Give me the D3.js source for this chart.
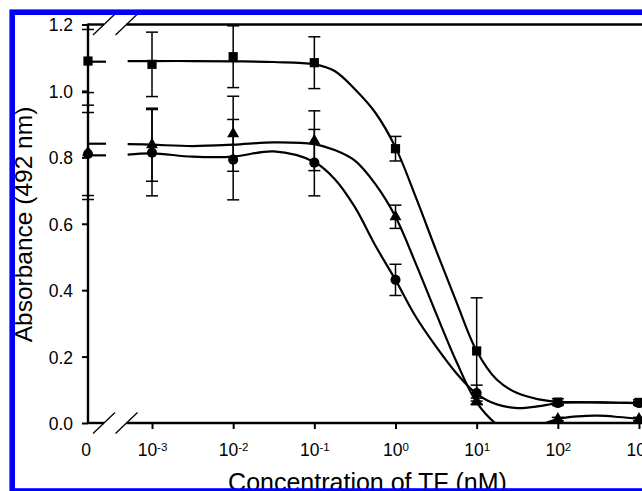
<!DOCTYPE html>
<html>
<head>
<meta charset="utf-8">
<script src="https://cdn.jsdelivr.net/npm/d3@7"></script>
<style>
body { margin: 0; background: #fff; }
svg { display: block; font-family: "Liberation Sans", Arial, sans-serif; }
</style>
</head>
<body>
<script>
// concentration of TF (nM); the 0 point sits on the broken left part of the axis
const conc = [0, 1e-3, 1e-2, 1e-1, 1, 10, 100, 1000];

// measured absorbance and error bars
const squareMean   = [1.090, 1.080, 1.103, 1.085, 0.826, 0.217, 0.063, 0.062];
const squareErr    = [0.095, 0.097, 0.093, 0.078, 0.037, 0.160, 0.010, 0.008];
const triangleMean = [0.815, 0.838, 0.871, 0.850, 0.621, 0.065, 0.012, 0.012];
const triangleErr  = [0.142, 0.110, 0.113, 0.090, 0.035, 0.010, 0.005, 0.005];
const circleMean   = [0.810, 0.814, 0.793, 0.784, 0.431, 0.090, 0.060, 0.060];
const circleErr    = [0.125, 0.130, 0.121, 0.100, 0.047, 0.024, 0.005, 0.005];

// fitted curves at log10(concentration)
const fitExp      = [-3.3, -3, -2.5, -2, -1.5, -1, -0.75, -0.5, -0.25, 0, 0.25, 0.5, 0.75, 1, 1.25, 1.5, 1.75, 2, 2.25, 2.5, 2.75, 3];
const squareFit   = [1.090, 1.090, 1.090, 1.089, 1.087, 1.080, 1.060, 1.005, 0.935, 0.830, 0.680, 0.520, 0.365, 0.217, 0.130, 0.090, 0.072, 0.064, 0.063, 0.062, 0.061, 0.060];
const triangleFit = [0.840, 0.838, 0.834, 0.838, 0.845, 0.840, 0.822, 0.790, 0.720, 0.621, 0.480, 0.330, 0.185, 0.062, -0.005, -0.040, -0.010, 0.012, 0.020, 0.022, 0.018, 0.012];
const circleFit   = [0.808, 0.812, 0.802, 0.802, 0.818, 0.786, 0.735, 0.650, 0.535, 0.431, 0.320, 0.230, 0.150, 0.088, 0.056, 0.045, 0.050, 0.060, 0.062, 0.062, 0.061, 0.060];
// fit value drawn on the broken part at concentration 0
const zeroFit = {square: 1.088, triangle: 0.841, circle: 0.806};

const yTicks = [0, 0.2, 0.4, 0.6, 0.8, 1.0, 1.2];
const xTickExp = [-3, -2, -1, 0, 1, 2, 3];

const width = 642, height = 491;
const svg = d3.select("body").append("svg").attr("width", width).attr("height", height);

const x0 = 88;            // position of concentration 0 (the y axis)
const x = d3.scaleLog().domain([1e-3, 1e3]).range([152, 639]);
const y = d3.scaleLinear().domain([0, 1.2]).range([423, 24.5]);
const px = c => c === 0 ? x0 : x(c);

const breakL = 104, breakR = 126.5;   // break slashes on the x axis

// clip everything to the plot area
svg.append("clipPath").attr("id", "plot")
    .append("rect").attr("x", 0).attr("y", 0).attr("width", 700).attr("height", y(0));

// axis lines, broken between 0 and 10^-3
const axisLines = svg.append("g").attr("stroke", "#000").attr("stroke-width", 2.4).attr("fill", "none");
axisLines.append("line").attr("x1", x0).attr("x2", x0).attr("y1", y(1.2) - 1).attr("y2", y(0) + 1);
[y(0), y(1.2)].forEach(function(yy){
    axisLines.append("line").attr("x1", x0).attr("x2", breakL).attr("y1", yy).attr("y2", yy);
    axisLines.append("line").attr("x1", breakR).attr("x2", 680).attr("y1", yy).attr("y2", yy);
    [breakL, breakR].forEach(function(bx){
        svg.append("line")
            .attr("x1", bx - 11).attr("y1", yy + 10.5)
            .attr("x2", bx + 11).attr("y2", yy - 10.5)
            .attr("stroke", "#000").attr("stroke-width", 1.3);
    });
});

// y axis ticks and labels
const yAxis = svg.append("g").attr("transform", "translate(" + x0 + ",0)")
    .call(d3.axisLeft(y).tickValues(yTicks).tickSize(6).tickPadding(9).tickFormat(d3.format(".1f")));
yAxis.select(".domain").remove();
yAxis.selectAll(".tick line").attr("stroke", "#000").attr("stroke-width", 2);
yAxis.selectAll(".tick text")
    .attr("font-size", "17.5px").attr("font-family", "Liberation Sans, Arial, sans-serif")
    .attr("fill", "#000").attr("dy", "0.37em");

// x axis ticks and labels (10 with superscript exponent)
const xAxis = svg.append("g").attr("transform", "translate(0," + y(0) + ")")
    .call(d3.axisBottom(x).tickValues(xTickExp.map(e => Math.pow(10, e))).tickSize(6));
xAxis.select(".domain").remove();
xAxis.selectAll(".tick line").attr("stroke", "#000").attr("stroke-width", 2);
xAxis.selectAll(".tick text")
    .attr("font-size", "17.5px").attr("font-family", "Liberation Sans, Arial, sans-serif")
    .attr("fill", "#000").attr("y", 32.7).attr("dy", null)
    .text(null)
    .each(function(d){
        let t = d3.select(this);
        t.append("tspan").text("10");
        t.append("tspan").attr("font-size", "11.5px").attr("dy", -4.3)
            .text(String(Math.round(Math.log10(d))));
    });
svg.append("text").attr("x", x0 - 2).attr("y", y(0) + 32.7)
    .attr("text-anchor", "middle").attr("font-size", "17.5px").text("0");

// axis titles
svg.append("text")
    .attr("transform", "translate(32,224.5) rotate(-90)")
    .attr("text-anchor", "middle").attr("font-size", "24.5px")
    .text("Absorbance (492 nm)");
svg.append("text")
    .attr("x", 367.5).attr("y", 491)
    .attr("text-anchor", "middle").attr("font-size", "25px")
    .text("Concentration of TF (nM)");

const series = [
    {name: "square",   mean: squareMean,   err: squareErr,   fit: squareFit,   symbol: d3.symbolSquare,   size: 85},
    {name: "triangle", mean: triangleMean, err: triangleErr, fit: triangleFit, symbol: d3.symbolTriangle, size: 62},
    {name: "circle",   mean: circleMean,   err: circleErr,   fit: circleFit,   symbol: d3.symbolCircle,   size: 80}
];

const plot = svg.append("g").attr("clip-path", "url(#plot)");

// error bars
series.forEach(function(s){
    let pts = conc.map((c, i) => ({c: c, m: s.mean[i], e: s.err[i]}));
    let g = plot.append("g").attr("stroke", "#000").attr("stroke-width", 1.5);
    g.selectAll("line.v").data(pts).join("line")
        .attr("x1", d => px(d.c)).attr("x2", d => px(d.c))
        .attr("y1", d => y(d.m + d.e)).attr("y2", d => y(d.m - d.e));
    g.selectAll("line.top").data(pts).join("line").attr("class", "top")
        .attr("x1", d => px(d.c) - 6).attr("x2", d => px(d.c) + 6)
        .attr("y1", d => y(d.m + d.e)).attr("y2", d => y(d.m + d.e));
    g.selectAll("line.bot").data(pts).join("line").attr("class", "bot")
        .attr("x1", d => px(d.c) - 6).attr("x2", d => px(d.c) + 6)
        .attr("y1", d => y(d.m - d.e)).attr("y2", d => y(d.m - d.e));
});

// fitted curves
const line = d3.line()
    .x(d => x(Math.pow(10, d[0])))
    .y(d => y(d[1]))
    .curve(d3.curveCatmullRom.alpha(0.5));
series.forEach(function(s){
    plot.append("path")
        .datum(fitExp.map((e, i) => [e, s.fit[i]]))
        .attr("d", line)
        .attr("fill", "none").attr("stroke", "#000").attr("stroke-width", 2.2);
    plot.append("line")
        .attr("x1", x0).attr("x2", 106)
        .attr("y1", y(zeroFit[s.name])).attr("y2", y(zeroFit[s.name]))
        .attr("stroke", "#000").attr("stroke-width", 2.2);
});

// markers
series.forEach(function(s){
    svg.append("g").selectAll("path").data(conc).join("path")
        .attr("transform", (c, i) => "translate(" + px(c) + "," + y(s.mean[i]) + ")")
        .attr("d", d3.symbol().type(s.symbol).size(s.size))
        .attr("fill", "#000");
});

// blue frame around the figure
svg.append("rect")
    .attr("x", 12.2).attr("y", 12.2).attr("width", 680).attr("height", 478.8)
    .attr("fill", "none").attr("stroke", "#0000ff").attr("stroke-width", 5.6);
</script>
</body>
</html>
